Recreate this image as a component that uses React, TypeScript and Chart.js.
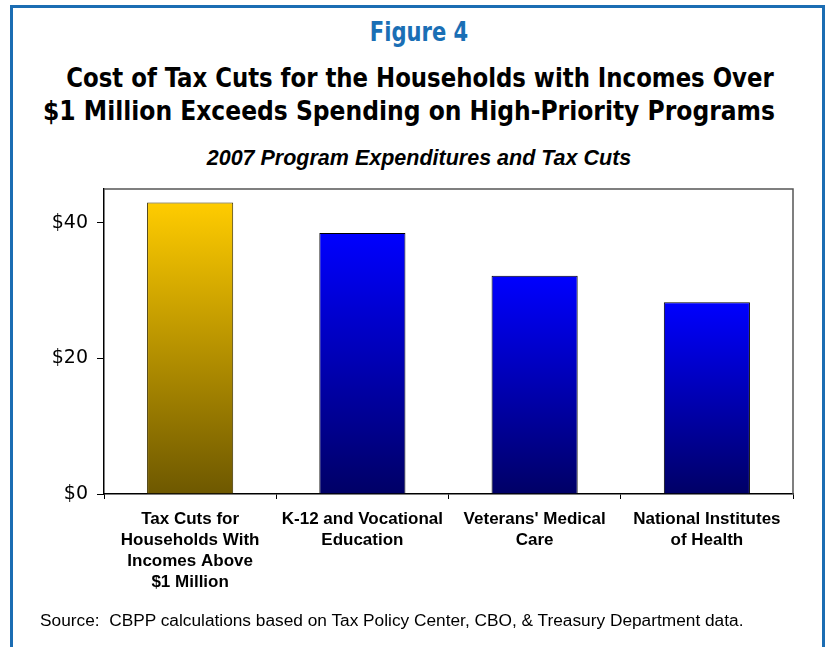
import React, { useEffect, useRef } from "react";
import { Chart, registerables } from "chart.js";

Chart.register(...registerables);

const categories: string[][] = [
  ["Tax Cuts for", "Households With", "Incomes Above", "$1 Million"],
  ["K-12 and Vocational", "Education"],
  ["Veterans' Medical", "Care"],
  ["National Institutes", "of Health"],
];
const values: number[] = [43.0, 38.5, 32.2, 28.3];
const yTicks: number[] = [0, 20, 40];
const topColors: string[] = ["#FFCC00", "#0000FF", "#0000FF", "#0000FF"];
const bottomColors: string[] = ["#6E5800", "#000066", "#000066", "#000066"];
const borderColors: string[] = ["#3f3300", "#000000", "#000000", "#000000"];

const frameLines = {
  id: "frameLines",
  afterDatasetsDraw(chart: any) {
    const { ctx, chartArea } = chart;
    ctx.save();
    ctx.strokeStyle = "#555555";
    ctx.lineWidth = 1.5;
    ctx.beginPath();
    ctx.moveTo(chartArea.left, chartArea.top);
    ctx.lineTo(chartArea.right, chartArea.top);
    ctx.lineTo(chartArea.right, chartArea.bottom);
    ctx.stroke();
    ctx.restore();
  },
};

export default function App() {
  const ref = useRef<HTMLCanvasElement | null>(null);

  useEffect(() => {
    if (!ref.current) return;
    const chart = new Chart(ref.current, {
      type: "bar",
      data: {
        labels: categories,
        datasets: [
          {
            data: values,
            backgroundColor: (c: any) => {
              const chart = c.chart;
              const area = chart.chartArea;
              const y = chart.scales?.y;
              if (!area || !y || c.type !== "data") return topColors[c.dataIndex ?? 0];
              const top = y.getPixelForValue(values[c.dataIndex]);
              const bottom = y.getPixelForValue(0);
              const g = chart.ctx.createLinearGradient(0, top, 0, bottom);
              g.addColorStop(0, topColors[c.dataIndex]);
              g.addColorStop(1, bottomColors[c.dataIndex]);
              return g;
            },
            borderColor: borderColors,
            borderWidth: 1,
            barPercentage: 0.5,
            categoryPercentage: 1,
          },
        ],
      },
      options: {
        animation: false,
        responsive: false,
        maintainAspectRatio: false,
        layout: { padding: { left: 0, top: 189, right: 37, bottom: 53 } },
        plugins: {
          legend: { display: false },
          title: { display: false },
          tooltip: { enabled: false },
        },
        scales: {
          x: {
            grid: {
              display: true,
              drawOnChartArea: false,
              drawTicks: true,
              tickLength: 5,
              color: "#000000",
              offset: true,
            },
            border: { display: true, color: "#000000", width: 1.5 },
            ticks: {
              color: "#000000",
              font: { family: "'Liberation Sans', Arial, sans-serif", size: 17, weight: "bold", lineHeight: 1.24 },
              padding: 10,
              maxRotation: 0,
              autoSkip: false,
            },
            afterFit: (s: any) => {
              s.height = 100;
            },
          },
          y: {
            min: 0,
            max: 45,
            afterBuildTicks: (s: any) => {
              s.ticks = yTicks.map((v) => ({ value: v }));
            },
            grid: {
              display: true,
              drawOnChartArea: false,
              drawTicks: true,
              tickLength: 7,
              color: "#000000",
            },
            border: { display: true, color: "#000000", width: 1.5 },
            ticks: {
              color: "#000000",
              font: { family: "'DejaVu Sans', Verdana, sans-serif", size: 19 },
              padding: 9,
              callback: (v: any) => "$" + v,
            },
            afterFit: (s: any) => {
              s.width = 104;
            },
          },
        },
      },
      plugins: [frameLines],
    });
    return () => chart.destroy();
  }, []);

  const titleFont = "'DejaVu Sans', sans-serif";
  const lineStyle = (top: number, center: number, size: number, scale: number, color: string): React.CSSProperties => ({
    position: "absolute",
    left: center - 500,
    width: 1000,
    top,
    textAlign: "center",
    fontFamily: titleFont,
    fontStretch: "condensed",
    fontWeight: "bold",
    fontSize: size,
    lineHeight: "33px",
    color,
    whiteSpace: "pre",
    transform: `scaleX(${scale})`,
    transformOrigin: "50% 50%",
  });

  return (
    <div style={{ position: "absolute", left: 0, top: 0, width: 830, height: 647, background: "#ffffff", overflow: "hidden" }}>
      <div
        style={{
          position: "absolute",
          left: 10,
          top: 5,
          width: 809,
          height: 660,
          borderTop: "3px solid #1b6db3",
          borderLeft: "3px solid #1b6db3",
          borderRight: "3px solid #1b6db3",
        }}
      />
      <div style={lineStyle(16, 419, 26, 0.9, "#1a6fb5")}>Figure 4</div>
      <div style={lineStyle(61, 419.5, 27, 0.94, "#000000")}>
        {"Cost of Tax Cuts for the Households with Incomes Over"}
      </div>
      <div style={lineStyle(94, 408.5, 27, 0.965, "#000000")}>
        {"$1 Million Exceeds Spending on High-Priority Programs"}
      </div>
      <div
        style={{
          position: "absolute",
          left: 0,
          width: 838,
          top: 145,
          textAlign: "center",
          fontFamily: "'Liberation Sans', Arial, sans-serif",
          fontWeight: "bold",
          fontStyle: "italic",
          fontSize: 21.5,
          lineHeight: "26px",
          color: "#000000",
        }}
      >
        2007 Program Expenditures and Tax Cuts
      </div>
      <canvas ref={ref} width={830} height={647} style={{ position: "absolute", left: 0, top: 0, width: 830, height: 647 }} />
      <div
        style={{
          position: "absolute",
          left: 40,
          top: 610,
          fontFamily: "'Liberation Sans', Arial, sans-serif",
          fontSize: 17.3,
          lineHeight: "20px",
          color: "#000000",
          whiteSpace: "pre",
        }}
      >
        {"Source:  CBPP calculations based on Tax Policy Center, CBO, & Treasury Department data."}
      </div>
    </div>
  );
}
